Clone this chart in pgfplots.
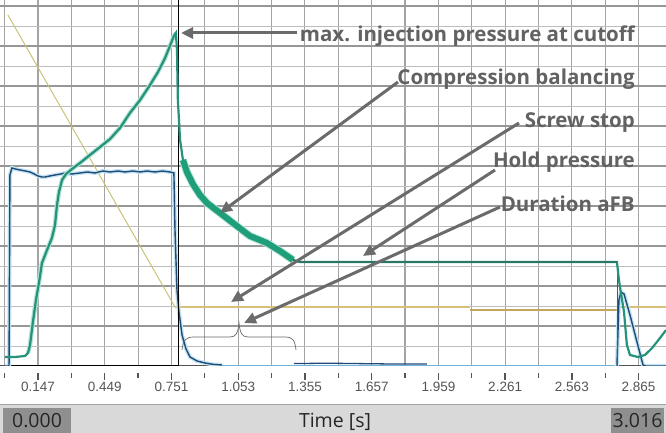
\documentclass[border=0pt]{standalone}
\usepackage{fontspec}
\setmainfont{Open Sans}
\newfontfamily\tickfont{Liberation Sans}
\usepackage{pgfplots}
\pgfplotsset{compat=1.18}
\usetikzlibrary{arrows.meta}
\definecolor{gridc}{HTML}{A4A4A4}
\definecolor{gridmaj}{HTML}{979797}
\definecolor{gridmin}{HTML}{BDBDBD}
\definecolor{tickc}{HTML}{555555}
\definecolor{blued}{HTML}{1F4B78}
\definecolor{bluel}{HTML}{6FB3D9}
\definecolor{halo}{HTML}{C4E4F2}
\definecolor{greenh}{HTML}{B5E3D6}
\definecolor{greenc}{HTML}{25937A}
\definecolor{greenb}{HTML}{1E9F7A}
\definecolor{greenp}{HTML}{2B7666}
\definecolor{yeld}{HTML}{C9C27A}
\definecolor{yelh}{HTML}{D6C07A}
\definecolor{yelk}{HTML}{C4A55C}
\definecolor{annc}{HTML}{626262}
\definecolor{arrc}{HTML}{6B6B6B}
\definecolor{barc}{HTML}{D9D9D9}
\definecolor{boxc}{HTML}{8F8F8F}
\begin{document}
\begin{tikzpicture}[x=1pt,y=1pt]
\useasboundingbox (0,0) rectangle (666,433);
\fill[white] (0,0) rectangle (666,433);
\begin{axis}[
  at={(0pt,67pt)}, anchor=south west, scale only axis,
  width=666pt, height=366pt,
  xmin=-0.0249, xmax=2.989, ymin=0, ymax=18.3,
  axis line style={draw=none},
  xtick={0.147,0.449,0.751,1.053,1.355,1.657,1.959,2.261,2.563,2.865},
  xticklabels={0.147,0.449,0.751,1.053,1.355,1.657,1.959,2.261,2.563,2.865},
  minor xtick={-0.004,0.298,0.600,0.902,1.204,1.506,1.808,2.110,2.412,2.714},
  ytick={2,4,...,18}, minor ytick={1,3,...,17}, yticklabels={},
  grid=both,
  major x grid style={gridc, line width=1.1pt},
  minor x grid style={gridc, line width=1.1pt},
  major y grid style={gridmaj, line width=1.5pt},
  minor y grid style={gridmin, line width=0.9pt},
  tick align=outside, xtick pos=bottom,
  major tick length=7pt, minor tick length=5pt,
  xtick style={draw=tickc, line width=1.3pt, yshift=-7pt},
  ytick style={draw=none},
  xticklabel shift=6pt,
  xticklabel style={font=\tickfont\fontsize{13.5}{14}\selectfont, text=tickc},
]
% bottom line
\addplot[tickc, line width=1.5pt] coordinates {(-0.03,0) (3,0)};
\addplot[black, line width=1.5pt] coordinates {(-0.003,0) (0.785,0)};
% stroke (yellow)
\addplot[yeld, line width=1pt] coordinates {(0.011,17.55) (0.767,2.95)};
\addplot[yelh, line width=2.2pt] coordinates {(0.767,2.95) (2.10,2.95)};
\addplot[yelk, line width=2.4pt] coordinates {(2.10,2.8) (2.767,2.8)};
\addplot[yelh, line width=2.2pt] coordinates {(2.767,2.95) (2.989,2.95)};
% flow (blue)
\addplot[halo, line width=4pt] coordinates {(-0.002,0) (0.016,0) (0.020,9.55) (0.029,9.9) (0.045,9.85) (0.066,9.8) (0.090,9.75) (0.111,9.7) (0.130,9.6) (0.147,9.5) (0.165,9.45) (0.179,9.45) (0.200,9.5) (0.224,9.55) (0.250,9.6) (0.269,9.65) (0.300,9.6) (0.337,9.65) (0.370,9.7) (0.405,9.65) (0.440,9.75) (0.473,9.7) (0.510,9.75) (0.541,9.7) (0.575,9.75) (0.609,9.7) (0.640,9.75) (0.676,9.7) (0.710,9.75) (0.744,9.7) (0.762,9.65) (0.767,6.8) (0.776,3.8) (0.785,2.7) (0.799,1.55) (0.817,0.85) (0.835,0.45) (0.867,0.25) (0.903,0.15) (0.940,0.08) (0.980,0.05)};
\addplot[blued, line width=1.4pt] coordinates {(-0.002,0) (0.016,0) (0.020,9.55) (0.029,9.9) (0.045,9.85) (0.066,9.8) (0.090,9.75) (0.111,9.7) (0.130,9.6) (0.147,9.5) (0.165,9.45) (0.179,9.45) (0.200,9.5) (0.224,9.55) (0.250,9.6) (0.269,9.65) (0.300,9.6) (0.337,9.65) (0.370,9.7) (0.405,9.65) (0.440,9.75) (0.473,9.7) (0.510,9.75) (0.541,9.7) (0.575,9.75) (0.609,9.7) (0.640,9.75) (0.676,9.7) (0.710,9.75) (0.744,9.7) (0.762,9.65) (0.767,6.8) (0.776,3.8) (0.785,2.7) (0.799,1.55) (0.817,0.85) (0.835,0.45) (0.867,0.25) (0.903,0.15) (0.940,0.08) (0.980,0.05)};
\addplot[bluel, line width=1.5pt] coordinates {(0.98,0.03) (2.767,0.03)};
\addplot[blued, line width=1.3pt] coordinates {(1.305,0.12) (1.45,0.14) (1.60,0.12) (1.75,0.1) (1.907,0.1)};
\addplot[halo, line width=4pt] coordinates {(2.767,0) (2.776,3.3) (2.785,3.7) (2.799,3.6) (2.826,2.55) (2.853,1.4) (2.885,0.05) (2.898,0) (2.989,0)};
\addplot[blued, line width=1.4pt] coordinates {(2.767,0) (2.776,3.3) (2.785,3.7) (2.799,3.6) (2.826,2.55) (2.853,1.4) (2.885,0.05) (2.898,0) (2.989,0)};
% cutoff marker
\addplot[black, line width=1.2pt] coordinates {(0.782,0) (0.782,18.3)};
\addplot[tickc, line width=0.8pt] coordinates {(2.767,5.2) (2.767,0)};
% injection pressure (green)
\addplot[greenh, line width=4.5pt] coordinates {(0.102,0.65) (0.111,1.05) (0.124,2.2) (0.138,3.3) (0.152,4.2) (0.165,5.15) (0.188,5.8) (0.210,6.4) (0.224,7.05) (0.233,8.05) (0.242,8.7) (0.256,9.3) (0.274,9.6) (0.301,9.85) (0.337,10.15) (0.382,10.55) (0.428,10.95) (0.473,11.35) (0.518,11.9) (0.563,12.65) (0.609,13.3) (0.654,14.05) (0.690,14.7) (0.722,15.4) (0.744,16.0) (0.762,16.5) (0.771,16.65)};
\addplot[greenc, line width=2.2pt] coordinates {(-0.002,0.45) (0.043,0.45) (0.088,0.5) (0.102,0.65) (0.111,1.05) (0.124,2.2) (0.138,3.3) (0.152,4.2) (0.165,5.15) (0.188,5.8) (0.210,6.4) (0.224,7.05) (0.233,8.05) (0.242,8.7) (0.256,9.3) (0.274,9.6) (0.301,9.85) (0.337,10.15) (0.382,10.55) (0.428,10.95) (0.473,11.35) (0.518,11.9) (0.563,12.65) (0.609,13.3) (0.654,14.05) (0.690,14.7) (0.722,15.4) (0.744,16.0) (0.762,16.5) (0.771,16.65) (0.776,15.8) (0.780,13.3) (0.790,11.3) (0.803,10.3) (0.821,9.7) (0.848,9.1) (0.880,8.55) (0.912,8.15) (0.971,7.65) (1.047,7.0) (1.106,6.5) (1.183,6.15) (1.242,5.75) (1.301,5.3) (1.333,5.2) (2.767,5.2) (2.776,4.3) (2.785,3.65) (2.799,2.7) (2.812,1.05) (2.826,0.55) (2.862,0.45) (2.894,0.55) (2.926,0.9) (2.962,1.4) (2.989,1.8)};
\addplot[greenh, line width=8pt] coordinates {(0.803,10.3) (0.821,9.7) (0.848,9.1) (0.880,8.55) (0.912,8.15) (0.971,7.65) (1.047,7.0) (1.106,6.5) (1.183,6.15) (1.242,5.75) (1.301,5.3)};
\addplot[greenb, line width=6pt] coordinates {(0.803,10.3) (0.821,9.7) (0.848,9.1) (0.880,8.55) (0.912,8.15) (0.971,7.65) (1.047,7.0) (1.106,6.5) (1.183,6.15) (1.242,5.75) (1.301,5.3)};
\addplot[greenp, line width=1.8pt] coordinates {(1.301,5.3) (1.333,5.2) (2.767,5.2)};
\end{axis}
% annotations
\tikzset{ann/.style={font=\bfseries\fontsize{20.5}{22}\selectfont, text=annc, anchor=base east, inner sep=0pt},
         arr/.style={draw=arrc, line width=3pt, -{Triangle[length=12pt,width=11pt]}}}
\node[ann] at (635,391.5) {max. injection pressure at cutoff};
\node[ann] at (635,348) {Compression balancing};
\node[ann] at (635,305) {Screw stop};
\node[ann] at (635,265) {Hold pressure};
\node[ann] at (635,221) {Duration aFB};
\draw[arr] (297,400) -- (181,400);
\draw[arr] (398,351) -- (220,220);
\draw[arr] (519,310) -- (231,131);
\draw[arr] (495,263) -- (363,177);
\draw[arr] (500,226) -- (244,110);
\draw[arrc, line width=0.7pt] (182,83) .. controls (183,93) and (186,96) .. (194,96) -- (230,96) .. controls (236,96) and (238,100) .. (239,110) .. controls (240,100) and (242,96) .. (248,96) -- (286,96) .. controls (292,96) and (295,93) .. (296,83);
% bottom bar
\fill[barc] (0,0) rectangle (666,28);
\draw[gridc, line width=1pt] (0,28) -- (666,28);
\fill[boxc] (3,0) rectangle (71,25);
\fill[boxc] (611,0) rectangle (664,25);
\node[font=\fontsize{19.5}{20}\selectfont, text=black!85, anchor=base, inner sep=0pt] at (37,5.5) {0.000};
\node[font=\fontsize{19.5}{20}\selectfont, text=black!85, anchor=base, inner sep=0pt] at (335,5.5) {Time [s]};
\node[font=\fontsize{19.5}{20}\selectfont, text=black!85, anchor=base, inner sep=0pt] at (637.5,5.5) {3.016};
\end{tikzpicture}
\end{document}
